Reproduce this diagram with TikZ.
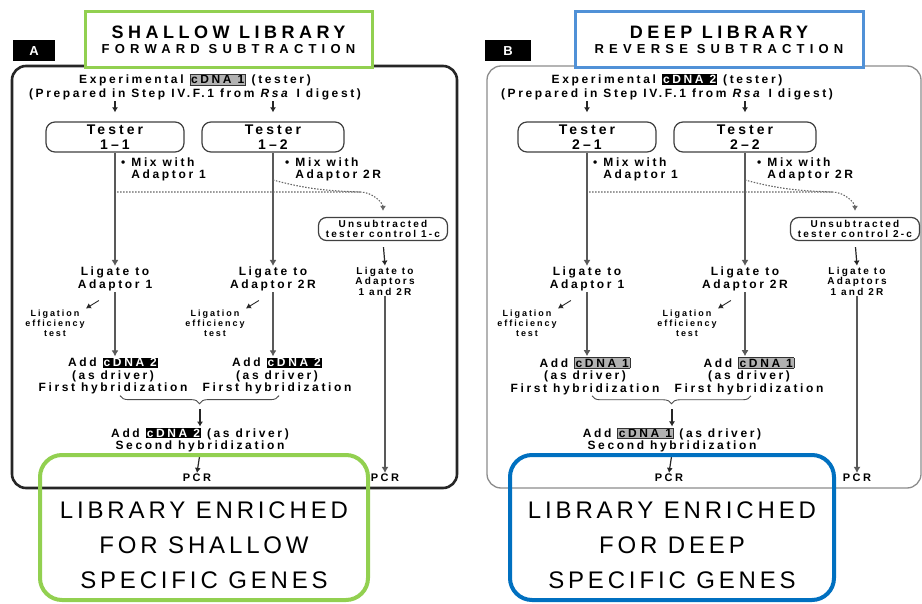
\documentclass[tikz,border=0pt]{standalone}
\usepackage{fontspec}
\setmainfont{Liberation Sans}
\newfontfamily\panelfont[LetterSpace=22]{Liberation Sans}
\newfontfamily\headfont[LetterSpace=25]{Liberation Sans}
\newfontfamily\subheadfont[LetterSpace=40]{Liberation Sans}
\newfontfamily\bigfont[LetterSpace=16]{Liberation Sans}
\usetikzlibrary{arrows.meta,decorations.pathreplacing,positioning}
\definecolor{shallowgreen}{RGB}{146,208,80}
\definecolor{deeptitle}{RGB}{80,145,215}
\definecolor{deepblue}{RGB}{0,112,192}
\newcommand\taglight[1]{{\setlength\fboxsep{1pt}\fcolorbox{black!80}{black!30}{#1}}}
\newcommand\tagdark[1]{{\setlength\fboxsep{1pt}\colorbox{black}{\textcolor{white}{#1}}}}

\begin{document}
\begin{tikzpicture}[x=1pt,y=-1pt,
	every node/.style={font=\panelfont\bfseries\fontsize{12}{12.5}\selectfont, align=center, inner sep=1pt},
	small/.style={font=\panelfont\bfseries\fontsize{9}{10}\selectfont},
	testerbox/.style={draw=black!75, line width=1.2pt, rounded corners=9pt, minimum width=138pt, minimum height=30pt, font=\panelfont\bfseries\fontsize{14}{15}\selectfont},
	ctrlbox/.style={draw=black!75, line width=1.2pt, rounded corners=8pt, minimum width=129pt, minimum height=23pt, inner sep=0.5pt, font=\panelfont\bfseries\fontsize{10}{10.5}\selectfont},
	flow/.style={draw=black!65, line width=2.2pt, -{Latex[length=6pt,width=7pt]}},
	tip/.style={draw=black!85, line width=1.2pt, -{Latex[length=5pt,width=6pt]}},
	dotline/.style={draw=black!60, line width=1.1pt, dash pattern=on 1.5pt off 1.5pt},
	bracestyle/.style={draw=black!70, line width=0.9pt, decorate, decoration={brace,mirror,amplitude=8pt}},
	outbox/.style={line width=4pt, rounded corners=22pt},
	outtext/.style={font=\bigfont\fontsize{24}{35}\selectfont}]
	\fill[white] (0,0) rectangle (922,604);
	\useasboundingbox (0,0) rectangle (922,604);

	% panel frames
	\draw[black!85, line width=2.6pt, rounded corners=14pt] (12,66) rectangle (457,488);
	\draw[black!45, line width=1.3pt, rounded corners=14pt] (487,66) rectangle (921,488);

	\foreach \p/\sx/\n/\m/\tagA/\tagB in {a/0/1/2/\taglight/\tagdark, b/472/2/1/\tagdark/\taglight}{
	\begin{scope}[shift={(\sx,0)}]
	\node[font=\panelfont\bfseries\fontsize{12}{14}\selectfont] (\p-exp) at (195,87) {Experimental \tagA{cDNA \n} (tester)\\(Prepared in Step IV.F.1 from \textit{Rsa} I digest)};
	\node[testerbox] (\p-t1) at (115,137) {Tester\\\n\textendash1};
	\node[testerbox, minimum width=142pt] (\p-t2) at (273,137) {Tester\\\n\textendash2};
	\draw[tip, shorten >=9pt] (\p-exp.south -| \p-t1) -- (\p-t1.north);
	\draw[tip, shorten >=9pt] (\p-exp.south -| \p-t2) -- (\p-t2.north);

	\node[anchor=north west, align=left, font=\panelfont\bfseries\fontsize{12}{11.5}\selectfont] (\p-mix1) at (120,157) {\textbullet{} Mix with\\\hphantom{\textbullet{} }Adaptor 1};
	\node[anchor=north west, align=left, font=\panelfont\bfseries\fontsize{12}{11.5}\selectfont] (\p-mix2) at (284,157) {\textbullet{} Mix with\\\hphantom{\textbullet{} }Adaptor 2R};
	\node[ctrlbox] (\p-ctrl) at (383,229) {Unsubtracted\\tester control \n-c};

	\node (\p-lig1) at (115,279) {Ligate to\\Adaptor 1};
	\node (\p-lig2) at (273,279) {Ligate to\\Adaptor 2R};
	\node[font=\panelfont\bfseries\fontsize{10}{10.5}\selectfont] (\p-lig3) at (385,281) {Ligate to\\Adaptors\\1 and 2R};
	\node[small] (\p-eff1) at (55,323) {Ligation\\efficiency\\test};
	\node[small] (\p-eff2) at (215,323) {Ligation\\efficiency\\test};

	\node (\p-add1) at (113,376) {Add \tagB{cDNA \m}\\(as driver)\\First hybridization};
	\node (\p-add2) at (277,376) {Add \tagB{cDNA \m}\\(as driver)\\First hybridization};
	\node (\p-add3) at (200,440) {Add \tagB{cDNA \m} (as driver)\\Second hybridization};
	\node[font=\panelfont\bfseries\fontsize{11}{12}\selectfont] (\p-pcr) at (197,478) {PCR};
	\node[font=\panelfont\bfseries\fontsize{11}{12}\selectfont] (\p-pcr3) at (385,478) {PCR};

	\coordinate (\p-d1) at (117,192);
	\coordinate (\p-d2) at (273,180);
	\coordinate (\p-join) at (360,192);
	\coordinate (\p-mid) at (200,409);

	\draw[flow] (\p-t1.south) -- (\p-lig1.north);
	\draw[flow] (\p-lig1.south) -- (\p-lig1.south |- \p-add1.north);
	\draw[flow] (\p-t2.south) -- (\p-lig2.north);
	\draw[flow] (\p-lig2.south) -- (\p-lig2.south |- \p-add2.north);
	\draw[dotline, -{Latex[length=5pt,width=6pt]}, shorten >=6pt] (\p-d1) -- (\p-join) to[out=0,in=90] (\p-ctrl.north);
	\draw[dotline] (\p-d2) to[out=-15,in=178] (\p-join);
	\draw[tip, shorten <=6pt] (\p-ctrl.south) -- (\p-lig3.north);
	\draw[flow] (\p-lig3.south) -- (\p-pcr3.north);

	\draw[tip, line width=0.9pt] (\p-eff1.north east) ++(13,-8) -- (\p-eff1.north east);
	\draw[tip, line width=0.9pt] (\p-eff2.north east) ++(13,-8) -- (\p-eff2.north east);

	\draw[bracestyle] ([xshift=7pt]\p-add1.south) -- ([xshift=2pt]\p-add2.south);
	\draw[tip] (\p-mid) -- (\p-add3.north);
	\draw[tip] (\p-add3.south) -- (\p-pcr.north);
	\end{scope}
	}

	% panel tags
	\node[fill=black, text=white, minimum width=42pt, minimum height=21pt, font=\bfseries\fontsize{13}{13}\selectfont] (taga) at (34,51) {A};
	\node[fill=black, text=white, minimum width=46pt, minimum height=21pt, font=\bfseries\fontsize{13}{13}\selectfont] (tagb) at (508,51) {B};

	% titles
	\node[draw=shallowgreen, line width=3pt, fill=white, minimum width=287pt, minimum height=56pt] (shallowtitle) at (228.5,40)
		{{\headfont\fontsize{18}{18}\selectfont SHALLOW LIBRARY}\\[3pt]{\subheadfont\bfseries\fontsize{13}{13}\selectfont FORWARD SUBTRACTION}};
	\node[draw=deeptitle, line width=3pt, fill=white, minimum width=288pt, minimum height=56pt] (deeptitle) at (719,40)
		{{\headfont\fontsize{18}{18}\selectfont DEEP LIBRARY}\\[3pt]{\subheadfont\bfseries\fontsize{13}{13}\selectfont REVERSE SUBTRACTION}};

	% results
	\draw[outbox, shallowgreen] (40,455) rectangle (368,600);
	\draw[outbox, deepblue] (510,455) rectangle (834,600);
	\node[outtext] (shallowres) at (204,545) {LIBRARY ENRICHED\\FOR SHALLOW\\SPECIFIC GENES};
	\node[outtext] (deepres) at (672,545) {LIBRARY ENRICHED\\FOR DEEP\\SPECIFIC GENES};
\end{tikzpicture}
\end{document}
